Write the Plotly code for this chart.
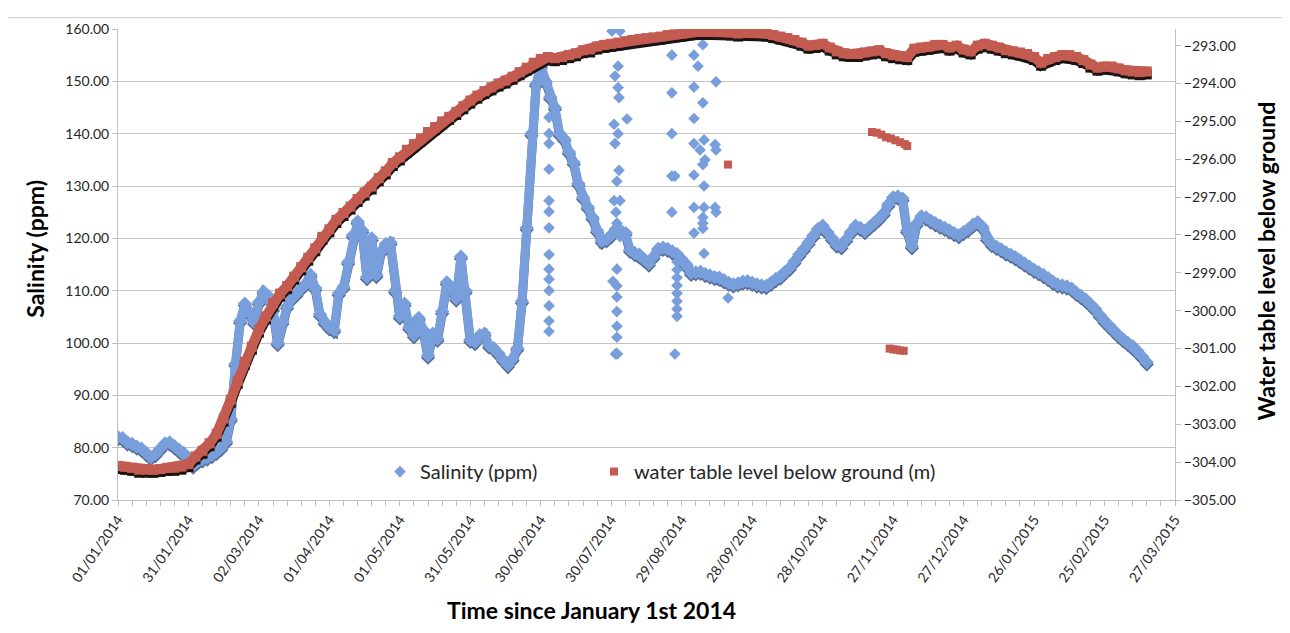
import pandas as pd
import plotly.graph_objects as go

# ---------------- data ----------------
BASE = pd.Timestamp("2014-01-01")

# Salinity main band, sampled every 2 days (day 0 .. 438)
sal_days = list(range(0, 440, 2))
sal_ppm = [
    82.0, 81.8, 81.0, 80.7, 80.2, 79.8, 79.0, 78.2, 78.8, 79.8,
    80.8, 81.0, 80.3, 79.6, 79.0, 77.8, 76.6, 77.4, 77.8, 78.1,
    78.6, 79.2, 80.0, 81.2, 85.5, 96.0, 104.2, 107.5, 106.0, 104.0,
    107.8, 109.8, 109.0, 106.5, 100.0, 104.0, 107.0, 108.5, 109.4, 110.5,
    111.4, 113.0, 110.5, 105.5, 104.0, 103.0, 102.5, 109.5, 110.7, 115.5,
    120.6, 123.2, 121.5, 112.6, 120.0, 113.0, 117.5, 118.9, 119.2, 110.0,
    105.1, 107.5, 103.0, 101.5, 104.8, 102.5, 97.6, 101.8, 100.8, 106.0,
    111.6, 110.5, 108.5, 116.5, 110.0, 100.6, 100.2, 101.5, 101.8, 99.5,
    99.0, 98.0, 96.8, 95.8, 97.0, 99.0, 108.0, 122.0, 140.0, 149.5,
    153.0, 150.0, 147.0, 145.0, 140.0, 139.0, 136.5, 134.5, 130.5, 127.8,
    126.0, 124.0, 121.5, 119.5, 119.8, 120.6, 121.8, 121.5, 121.0, 117.8,
    117.2, 116.9, 116.0, 115.2, 116.5, 118.0, 118.2, 118.0, 117.5, 117.0,
    116.0, 115.0, 113.4, 113.5, 113.6, 113.2, 112.9, 112.6, 112.5, 112.0,
    111.5, 111.2, 111.4, 111.7, 111.8, 111.5, 111.2, 111.0, 110.9, 111.5,
    112.2, 112.7, 113.6, 114.4, 115.6, 116.9, 118.0, 119.2, 120.5, 121.8,
    122.4, 121.2, 120.0, 118.8, 118.5, 119.8, 121.2, 122.4, 122.0, 121.4,
    122.2, 123.0, 123.8, 124.8, 126.5, 127.8, 128.0, 127.6, 121.5, 118.5,
    122.8, 124.2, 124.0, 123.4, 122.9, 122.4, 122.0, 121.5, 121.0, 120.6,
    121.2, 121.8, 122.6, 123.1, 122.2, 120.0, 118.9, 118.4, 117.9, 117.3,
    116.9, 116.4, 115.8, 115.2, 114.6, 114.0, 113.5, 113.0, 112.4, 111.7,
    111.2, 111.0, 110.8, 110.4, 109.6, 109.0, 108.3, 107.4, 106.5, 105.3,
    104.2, 103.3, 102.4, 101.5, 100.7, 100.0, 99.4, 98.5, 97.4, 96.3,
]

# Isolated salinity readings (scattered columns)
sal_out_days = [
    183.5, 183.5, 183.5, 183.5, 183.5, 183.5, 183.5, 183.5, 183.5, 183.5, 183.5, 183.5, 183.5, 183.5,
    210.3, 213.7, 212.9, 211.6, 212.9, 213.3, 216.7, 211.2, 212.9, 211.6, 213.3, 212.4, 211.2, 213.7,
    212.0, 212.4, 213.7, 216.7, 212.4, 210.7, 212.4, 212.4, 212.4, 212.4, 212.4, 211.8, 212.6, 212.2,
    235.8, 235.8, 235.8, 235.8, 237.1, 235.8, 237.1,
    238.0, 238.0, 238.0, 238.0, 238.0, 238.0, 238.0, 238.0,
    249.0, 245.2, 246.9, 245.2, 254.6, 249.0, 245.2, 249.5, 245.2, 247.8, 254.2, 254.6, 249.9,
    249.0, 245.2, 249.5, 245.2, 249.5, 254.2, 254.6, 249.0, 249.0, 249.0, 245.2, 249.5,
    259.7,
]
sal_out_ppm = [
    143.1, 140.0, 138.1, 133.2, 127.2, 125.1, 122.0, 116.9, 114.1, 112.2, 110.0, 107.1, 104.2, 102.2,
    159.6, 159.6, 152.9, 151.0, 148.8, 146.9, 142.8, 141.8, 140.0, 138.1, 133.0, 130.9, 127.2, 127.2,
    125.0, 122.9, 120.3, 121.0, 114.1, 111.8, 110.9, 108.8, 106.0, 103.2, 101.1, 97.9, 97.9, 98.0,
    155.0, 147.8, 140.0, 131.9, 131.9, 125.0, 97.9,
    115.5, 114.0, 112.5, 111.0, 109.5, 108.0, 106.5, 105.1,
    157.0, 155.0, 152.9, 148.9, 149.9, 145.9, 142.9, 138.8, 138.1, 136.9, 137.9, 136.9, 135.0,
    134.1, 132.1, 130.0, 125.9, 125.9, 125.9, 125.0, 124.0, 122.9, 121.9, 121.0, 117.1,
    108.6,
]

# Water table level, sampled every 3 days (day 0 .. 438)
wt_days = list(range(0, 439, 3))
wt_m = [
    -304.10, -304.12, -304.15, -304.20, -304.20, -304.20, -304.18, -304.15, -304.15, -304.12,
    -304.05, -303.85, -303.70, -303.50, -303.25, -302.85, -302.35, -301.85, -301.35, -300.95,
    -300.50, -300.15, -299.80, -299.55, -299.35, -299.10, -298.85, -298.60, -298.35, -298.05,
    -297.85, -297.60, -297.42, -297.25, -297.05, -296.88, -296.72, -296.50, -296.32, -296.10,
    -295.95, -295.75, -295.60, -295.45, -295.28, -295.15, -295.00, -294.88, -294.75, -294.60,
    -294.45, -294.32, -294.20, -294.10, -294.00, -293.92, -293.82, -293.70, -293.58, -293.45,
    -293.35, -293.30, -293.33, -293.30, -293.25, -293.20, -293.12, -293.10, -293.02, -292.98,
    -292.95, -292.92, -292.88, -292.85, -292.82, -292.80, -292.78, -292.76, -292.72, -292.70,
    -292.68, -292.65, -292.64, -292.63, -292.63, -292.62, -292.62, -292.65, -292.68, -292.65,
    -292.62, -292.65, -292.68, -292.72, -292.76, -292.80, -292.85, -292.92, -293.00, -292.98,
    -292.95, -293.05, -293.15, -293.20, -293.22, -293.22, -293.18, -293.15, -293.12, -293.20,
    -293.25, -293.28, -293.30, -293.08, -293.05, -293.03, -292.98, -292.98, -293.05, -293.00,
    -293.10, -293.15, -293.00, -292.95, -293.00, -293.05, -293.12, -293.15, -293.18, -293.22,
    -293.30, -293.45, -293.35, -293.30, -293.25, -293.25, -293.30, -293.38, -293.50, -293.58,
    -293.55, -293.55, -293.60, -293.65, -293.68, -293.70, -293.68,
]

# Isolated water-table readings
wt_out_days = [259.7, 321, 323, 325, 327, 329, 331, 333, 335, 336,
               328.5, 330, 331.5, 333, 334.5]
wt_out_m = [-296.14, -295.28, -295.30, -295.35, -295.42, -295.45, -295.50, -295.55, -295.60, -295.65,
            -301.00, -301.02, -301.03, -301.05, -301.06]

x_tick_days = list(range(0, 451, 30))
sal_ticks = list(range(70, 161, 10))
wt_ticks = list(range(-305, -292, 1))

# ---------------- helpers ----------------
def dates(days):
    return [BASE + pd.Timedelta(days=float(d)) for d in days]

BLUE = "#789fdc"
BLUE_SH = "#566b95"
RED = "#c35b50"
RED_SH = "#1c1414"
FONT = "Lato"

fig = go.Figure()

# salinity shadow + main + outliers
fig.add_trace(go.Scatter(
    x=dates(sal_days), y=[v - 0.4 for v in sal_ppm], mode="lines+markers",
    line=dict(color=BLUE_SH, width=9), marker=dict(symbol="diamond", size=11, color=BLUE_SH),
    showlegend=False, hoverinfo="skip"))
fig.add_trace(go.Scatter(
    x=dates(sal_days), y=sal_ppm, mode="lines+markers",
    line=dict(color=BLUE, width=9), marker=dict(symbol="diamond", size=11, color=BLUE),
    showlegend=False, name="Salinity (ppm)"))
fig.add_trace(go.Scatter(
    x=dates(sal_out_days), y=sal_out_ppm, mode="markers",
    marker=dict(symbol="diamond", size=9, color=BLUE),
    name="Salinity (ppm)", showlegend=True, legend="legend"))

# water table shadow + main + outliers (secondary axis)
fig.add_trace(go.Scatter(
    x=dates(wt_days), y=[v - 0.08 for v in wt_m], mode="lines+markers", yaxis="y2",
    line=dict(color=RED_SH, width=10), marker=dict(symbol="square", size=10, color=RED_SH),
    showlegend=False, hoverinfo="skip"))
fig.add_trace(go.Scatter(
    x=dates(wt_days), y=wt_m, mode="lines+markers", yaxis="y2",
    line=dict(color=RED, width=10), marker=dict(symbol="square", size=10, color=RED),
    showlegend=False, name="water table level below ground (m)"))
fig.add_trace(go.Scatter(
    x=dates(wt_out_days), y=wt_out_m, mode="markers", yaxis="y2",
    marker=dict(symbol="square", size=8, color=RED),
    name="water table level below ground (m)", showlegend=True, legend="legend2"))

# page body has an 8px margin: figure occupies screen x 8..1290, y 8..633
OFF = 8
W, H = 1290 - OFF, 633 - OFF
PL, PR, PT, PB = 118, 1175, 20, 500          # plot area in screen pixels
L, R, T, B = PL - OFF, 1290 - PR, PT - OFF, 633 - PB
pw, ph = PR - PL, PB - PT

def px(X):
    return (X - PL) / pw

def py(Y):
    return (PB - Y) / ph

tick_font = dict(family=FONT, size=14, color="#262626")
leg_font = dict(family=FONT, size=20, color="#262626")
fig.update_layout(
    width=W, height=H,
    margin=dict(l=L, r=R, t=T, b=B, pad=0),
    paper_bgcolor="white", plot_bgcolor="white",
    font=dict(family=FONT, color="#262626"),
    xaxis=dict(
        type="date",
        range=[BASE, BASE + pd.Timedelta(days=450)],
        tickvals=dates(x_tick_days),
        tickformat="%d/%m/%Y", tickangle=-55, tickfont=tick_font,
        ticks="outside", ticklen=5, tickcolor="#bfbfbf",
        minor=dict(dtick=6 * 86400000, tick0=BASE, ticks="outside", ticklen=5, tickcolor="#bfbfbf", showgrid=False),
        showgrid=False, showline=True, linecolor="#bfbfbf", linewidth=1,
        zeroline=False,
    ),
    yaxis=dict(
        range=[70, 160], tickvals=sal_ticks, tickformat=".2f", tickfont=tick_font,
        ticks="outside", ticklen=5, tickcolor="#bfbfbf",
        showgrid=True, gridcolor="#c4c4c4", gridwidth=1,
        showline=True, linecolor="#bfbfbf", zeroline=False,
    ),
    yaxis2=dict(
        overlaying="y", side="right",
        range=[-305, -292.56], tickvals=wt_ticks, tickformat=".2f", tickfont=tick_font,
        ticks="outside", ticklen=5, tickcolor="#bfbfbf",
        showgrid=False, showline=True, linecolor="#bfbfbf", zeroline=False,
    ),
    legend=dict(
        orientation="h", x=px(380), xanchor="left", y=py(471), yanchor="middle",
        bgcolor="rgba(0,0,0,0)", font=leg_font, itemwidth=30,
    ),
    legend2=dict(
        orientation="h", x=px(594), xanchor="left", y=py(471), yanchor="middle",
        bgcolor="rgba(0,0,0,0)", font=leg_font, itemwidth=30,
    ),
    showlegend=True,
)

title_font = dict(family=FONT, size=23, color="black")
fig.add_annotation(text="<b>Time since January 1st 2014</b>", xref="paper", yref="paper",
                   x=px(591), y=py(612), showarrow=False, font=title_font,
                   xanchor="center", yanchor="middle")
fig.add_annotation(text="<b>Salinity (ppm)</b>", xref="paper", yref="paper",
                   x=px(35), y=py(244), showarrow=False, font=title_font,
                   textangle=-90, xanchor="center", yanchor="middle")
fig.add_annotation(text="<b>Water table level below ground</b>", xref="paper", yref="paper",
                   x=px(1266), y=py(257), showarrow=False, font=title_font,
                   textangle=-90, xanchor="center", yanchor="middle")

# thin frame line at the top of the chart area
fig.add_shape(type="line", xref="paper", yref="paper",
              x0=px(0), x1=px(1290), y0=py(8.5), y1=py(8.5),
              line=dict(color="#c8c8c8", width=1))

fig.write_html("out.html")
